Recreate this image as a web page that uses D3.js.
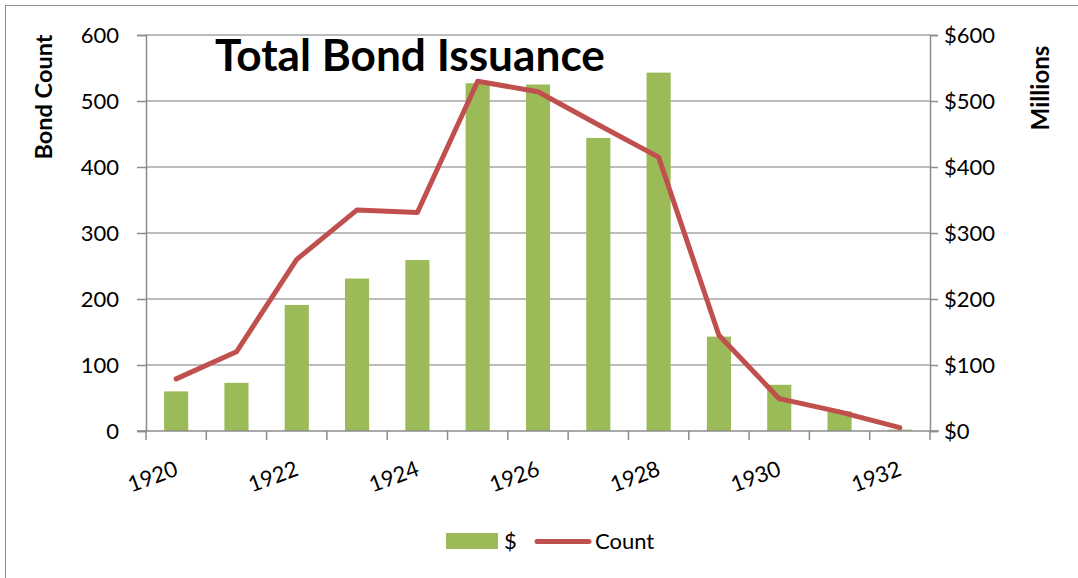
<!DOCTYPE html>
<html>
<head>
<meta charset="utf-8">
<script src="https://cdn.jsdelivr.net/npm/d3@7"></script>
<style>
  body { margin: 0; background: #fff; }
  svg { display: block; }
  text { font-family: Lato, "Open Sans", sans-serif; fill: #000; }
</style>
</head>
<body>
<svg id="chart" width="1078" height="578"></svg>
<script>
// ---- data ----
const years = ["1920","1921","1922","1923","1924","1925","1926","1927","1928","1929","1930","1931","1932"];
const dollars = [60, 73, 191, 231, 259, 527, 525, 444, 543, 143, 70, 30, 2];       // $ millions (right axis)
const counts  = [79, 120, 260, 335, 331, 530, 514, 464, 415, 145, 49, 29, 5];     // bond count (left axis)
const leftTicks = [0, 100, 200, 300, 400, 500, 600];
const rightTicks = [0, 100, 200, 300, 400, 500, 600];
const labelYears = ["1920","1922","1924","1926","1928","1930","1932"];

const svg = d3.select("#chart");
const plot = { left: 146, right: 930, top: 35, bottom: 431 };

// outer border
svg.append("rect").attr("x", 5.5).attr("y", 5.5).attr("width", 1100).attr("height", 600)
  .attr("fill", "#fff").attr("stroke", "#8c8c8c").attr("stroke-width", 1);

const x = d3.scaleBand().domain(years).range([plot.left, plot.right]).paddingInner(0).paddingOuter(0);
const yL = d3.scaleLinear().domain([0, 600]).range([plot.bottom, plot.top]);
const yR = d3.scaleLinear().domain([0, 600]).range([plot.bottom, plot.top]);

const gridColor = "#a6a6a6";
const axisColor = "#8c8c8c";
const tickFont = 22;

// gridlines
svg.append("g").selectAll("line").data(leftTicks.filter(d => d > 0)).join("line")
  .attr("x1", plot.left).attr("x2", plot.right)
  .attr("y1", d => yL(d)).attr("y2", d => yL(d))
  .attr("stroke", gridColor).attr("stroke-width", 1.5);

// bars
const bw = x.bandwidth() * 0.4;
svg.append("g").selectAll("rect").data(years).join("rect")
  .attr("x", (d) => x(d) + (x.bandwidth() - bw) / 2)
  .attr("width", bw)
  .attr("y", (d, i) => yR(dollars[i]))
  .attr("height", (d, i) => yR(0) - yR(dollars[i]))
  .attr("fill", "#9bbb59");

// left axis
const gL = svg.append("g").attr("transform", `translate(${plot.left},0)`)
  .call(d3.axisLeft(yL).tickValues(leftTicks).tickSize(9).tickPadding(18).tickFormat(d3.format("d")));
gL.select(".domain").attr("stroke", axisColor).attr("stroke-width", 1.5);
gL.selectAll(".tick line").attr("stroke", axisColor).attr("stroke-width", 1.5);
gL.selectAll(".tick text").attr("font-size", tickFont).attr("font-family", "Lato, sans-serif").attr("fill", "#000");

// right axis
const gR = svg.append("g").attr("transform", `translate(${plot.right},0)`)
  .call(d3.axisRight(yR).tickValues(rightTicks).tickSize(8).tickPadding(6).tickFormat(d => "$" + d));
gR.select(".domain").attr("stroke", axisColor).attr("stroke-width", 1.5);
gR.selectAll(".tick line").attr("stroke", axisColor).attr("stroke-width", 1.5);
gR.selectAll(".tick text").attr("font-size", tickFont).attr("font-family", "Lato, sans-serif").attr("fill", "#000");

// bottom axis (ticks at category boundaries)
const gB = svg.append("g");
gB.append("line").attr("x1", plot.left - 9).attr("x2", plot.right + 9)
  .attr("y1", plot.bottom).attr("y2", plot.bottom)
  .attr("stroke", axisColor).attr("stroke-width", 1.5);
const bounds = d3.range(years.length + 1).map(i => plot.left + i * x.step());
gB.selectAll("line.tk").data(bounds).join("line").attr("class", "tk")
  .attr("x1", d => d).attr("x2", d => d)
  .attr("y1", plot.bottom).attr("y2", plot.bottom + 9)
  .attr("stroke", axisColor).attr("stroke-width", 1.5);
gB.selectAll("text").data(labelYears).join("text")
  .attr("transform", d => `translate(${x(d) + x.bandwidth() / 2 + 3},475) rotate(-20)`)
  .attr("text-anchor", "end")
  .attr("font-size", tickFont)
  .text(d => d);

// count line
const line = d3.line()
  .x((d, i) => x(years[i]) + x.bandwidth() / 2)
  .y(d => yL(d));
svg.append("path").datum(counts)
  .attr("d", line)
  .attr("fill", "none")
  .attr("stroke", "#c0504d")
  .attr("stroke-width", 5)
  .attr("stroke-linejoin", "round")
  .attr("stroke-linecap", "round");

function fit(sel, target) {
  const n = sel.node();
  const w = n.getComputedTextLength();
  const fs = parseFloat(sel.attr("font-size"));
  sel.attr("font-size", fs * target / w);
}

// title
const title = svg.append("text").attr("x", 215).attr("y", 71)
  .attr("font-size", 36).attr("font-weight", "bold").text("Total Bond Issuance");
fit(title, 390);

// axis titles
const yt = svg.append("text").attr("transform", "translate(52,97) rotate(-90)")
  .attr("text-anchor", "middle").attr("font-size", 18).attr("font-weight", "bold").text("Bond Count");
fit(yt, 125);
const rt = svg.append("text").attr("transform", "translate(1049,88) rotate(-90)")
  .attr("text-anchor", "middle").attr("font-size", 18).attr("font-weight", "bold").text("Millions");
fit(rt, 85);

// legend
svg.append("rect").attr("x", 446).attr("y", 533).attr("width", 52).attr("height", 16).attr("fill", "#9bbb59");
svg.append("text").attr("x", 504).attr("y", 549).attr("font-size", 22).text("$");
svg.append("line").attr("x1", 537).attr("x2", 589).attr("y1", 541.5).attr("y2", 541.5)
  .attr("stroke", "#c0504d").attr("stroke-width", 5).attr("stroke-linecap", "round");
svg.append("text").attr("x", 595).attr("y", 549).attr("font-size", 22).text("Count");
</script>
</body>
</html>
